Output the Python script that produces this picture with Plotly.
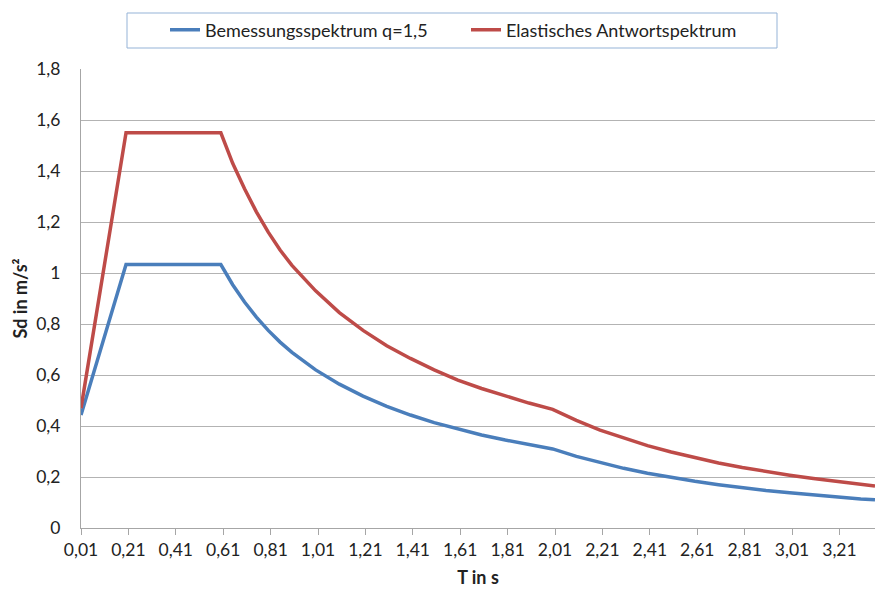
import plotly.graph_objects as go

# Periods T in s and spectral values Sd in m/s²
periods = [0.01, 0.20, 0.60, 0.65, 0.70, 0.75, 0.80, 0.85, 0.90, 0.95, 1.00,
           1.10, 1.20, 1.30, 1.40, 1.50, 1.60, 1.70, 1.80, 1.90, 2.00,
           2.10, 2.20, 2.30, 2.40, 2.50, 2.60, 2.70, 2.80, 2.90, 3.00,
           3.10, 3.20, 3.30, 3.36]
elastic = [0.47, 1.55, 1.55, 1.43, 1.33, 1.24, 1.16, 1.09, 1.03, 0.98, 0.93,
           0.845, 0.775, 0.715, 0.665, 0.62, 0.58, 0.547, 0.517, 0.49, 0.465,
           0.422, 0.384, 0.352, 0.323, 0.298, 0.275, 0.255, 0.237, 0.221, 0.207,
           0.194, 0.182, 0.171, 0.165]
design = [0.443, 1.033, 1.033, 0.954, 0.886, 0.827, 0.775, 0.729, 0.689, 0.653, 0.62,
          0.564, 0.517, 0.477, 0.443, 0.413, 0.388, 0.365, 0.345, 0.327, 0.31,
          0.281, 0.256, 0.234, 0.215, 0.198, 0.183, 0.170, 0.158, 0.147, 0.138,
          0.129, 0.121, 0.114, 0.111]

x_tick_vals = [0.01, 0.21, 0.41, 0.61, 0.81, 1.01, 1.21, 1.41, 1.61, 1.81,
               2.01, 2.21, 2.41, 2.61, 2.81, 3.01, 3.21]
x_tick_text = ["0,01", "0,21", "0,41", "0,61", "0,81", "1,01", "1,21", "1,41", "1,61",
               "1,81", "2,01", "2,21", "2,41", "2,61", "2,81", "3,01", "3,21"]
y_tick_vals = [0, 0.2, 0.4, 0.6, 0.8, 1.0, 1.2, 1.4, 1.6, 1.8]

FONT = "Lato, 'Liberation Sans', sans-serif"
TEXT = "#222222"
BLUE = "#4a7ebb"
RED = "#be4b48"

fig = go.Figure()
fig.add_trace(go.Scatter(x=periods, y=design, mode="lines",
                         name="Bemessungsspektrum q=1,5",
                         line=dict(color=BLUE, width=3.5)))
fig.add_trace(go.Scatter(x=periods, y=elastic, mode="lines",
                         name="Elastisches Antwortspektrum",
                         line=dict(color=RED, width=3.5)))

W, H = 875, 590
L, R, T, B = 81, 0, 69, 62
pw, ph = W - L - R, H - T - B


def px_x(p):
    return (p - L) / pw


def px_y(p):
    return (H - B - p) / ph


fig.update_layout(
    width=W, height=H,
    margin=dict(l=L, r=R, t=T, b=B),
    paper_bgcolor="white", plot_bgcolor="white",
    separators=",.",
    font=dict(family=FONT, size=17, color=TEXT),
    showlegend=True,
    legend=dict(orientation="h", x=px_x(165), y=px_y(30),
                xanchor="left", yanchor="middle",
                bgcolor="rgba(0,0,0,0)", borderwidth=0,
                font=dict(family=FONT, size=18, color=TEXT),
                traceorder="normal", entrywidth=256, entrywidthmode="pixels"),
    shapes=[dict(type="rect", xref="paper", yref="paper",
                 x0=px_x(127), x1=px_x(777), y0=px_y(48), y1=px_y(13),
                 line=dict(color="#95b3d7", width=1), fillcolor="rgba(0,0,0,0)")],
    xaxis=dict(range=[0.01, 3.36], tickvals=x_tick_vals, ticktext=x_tick_text,
               showgrid=False, zeroline=False,
               showline=True, linecolor="#a6a6a6", linewidth=1,
               ticks="outside", ticklen=6, tickcolor="#a6a6a6",
               tickfont=dict(family=FONT, size=17.5, color=TEXT),
               title=dict(text="<b>T in s</b>", standoff=12,
                          font=dict(family=FONT, size=18, color=TEXT))),
    yaxis=dict(range=[0, 1.8], tickvals=y_tick_vals,
               showgrid=True, gridcolor="#b3b3b3", gridwidth=1,
               zeroline=False, showline=True, linecolor="#a6a6a6", linewidth=1,
               ticks="", ticklabelstandoff=16,
               tickfont=dict(family=FONT, size=17.5, color=TEXT),
               title=dict(text="<b>Sd in m/s²</b>", standoff=3,
                          font=dict(family=FONT, size=18, color=TEXT))),
)

fig.write_html("out.html")
